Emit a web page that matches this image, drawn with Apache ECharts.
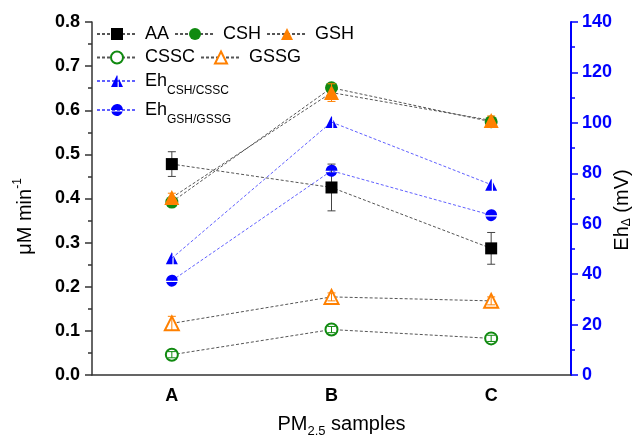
<!DOCTYPE html>
<html>
<head>
<meta charset="utf-8">
<script src="https://cdn.jsdelivr.net/npm/echarts@6/dist/echarts.min.js"></script>
<style>
html, body { margin: 0; padding: 0; background: #fff; }
#main { width: 638px; height: 435px; }
</style>
</head>
<body>
<div id="main"></div>
<script>
// categories
var samples = ['A', 'B', 'C'];
// rates (uM/min), left axis
var aa = [0.478, 0.425, 0.287];
var aaErr = [0.028, 0.053, 0.036];
var csh = [0.392, 0.651, 0.574];
var cshErr = [0.008, 0.008, 0.008];
var gsh = [0.402, 0.640, 0.577];
var gshErr = [0.01, 0.02, 0.01];
var cssc = [0.046, 0.103, 0.083];
var csscErr = [0.007, 0.007, 0.007];
var gssg = [0.117, 0.177, 0.168];
var gssgErr = [0.016, 0.009, 0.009];
// redox potentials (mV), right axis
var ehCsh = [46.3, 100.3, 75.5];
var ehGsh = [37.4, 81.0, 63.4];

var FONT = 'Liberation Sans, Arial, sans-serif';
var GREEN = '#108a10', ORANGE = '#ff8000', BLUE = '#0000ff';
var GRAY_LINE = '#555', BLUE_LINE = '#6060ff';

var halfTri = 'path://M10,0 L0,20 L11,20 L11,2 Z M13,6 L13,20 L20,20 Z';
var halfCirc = 'path://M0.05,11 A10,10 0 0 1 19.95,11 Z M0.5,13.1 A10,10 0 0 0 19.5,13.1 Z';

var myChart = echarts.init(document.getElementById('main'));

function lineSeries(name, data, symbol, size, color, lineColor, axis) {
  return {
    name: name,
    type: 'line',
    yAxisIndex: axis,
    data: data,
    symbol: symbol,
    symbolSize: size,
    z: 2,
    itemStyle: { color: color, borderColor: color, borderWidth: symbol.indexOf('empty') === 0 ? 1.5 : 0 },
    lineStyle: { color: lineColor, width: 1, type: [3, 2] }
  };
}

// error bars drawn through the value axis
function errBars(vals, errs, color, z) {
  return {
    type: 'custom',
    z: z,
    silent: true,
    encode: { x: 0, y: [1, 2] },
    data: vals.map(function(v, i) { return [i, v - errs[i], v + errs[i]]; }),
    renderItem: function(params, api) {
      var hi = api.coord([api.value(0), api.value(2)]);
      var lo = api.coord([api.value(0), api.value(1)]);
      var w = 4;
      var st = { stroke: color, lineWidth: 1 };
      return {
        type: 'group',
        children: [
          { type: 'line', shape: { x1: hi[0], y1: hi[1], x2: lo[0], y2: lo[1] }, style: st },
          { type: 'line', shape: { x1: hi[0] - w, y1: hi[1], x2: hi[0] + w, y2: hi[1] }, style: st },
          { type: 'line', shape: { x1: lo[0] - w, y1: lo[1], x2: lo[0] + w, y2: lo[1] }, style: st }
        ]
      };
    }
  };
}

var legendNames = {
  'Eh CSH/CSSC': '{a|Eh}{s|CSH/CSSC}',
  'Eh GSH/GSSG': '{a|Eh}{s|GSH/GSSG}'
};
function legendRow(names, top) {
  return {
    data: names,
    left: 96,
    top: top,
    padding: 0,
    itemWidth: 40,
    itemHeight: 15,
    itemGap: 5,
    selectedMode: false,
    formatter: function(n) { return legendNames[n] || n; },
    textStyle: {
      fontFamily: FONT, fontSize: 18, color: '#000', padding: [0, 0, 0, 3],
      rich: {
        a: { fontFamily: FONT, fontSize: 18, color: '#000', verticalAlign: 'middle' },
        s: { fontFamily: FONT, fontSize: 12, color: '#000', verticalAlign: 'middle', padding: [20, 0, 0, 0] }
      }
    }
  };
}

var option = {
  animation: false,
  backgroundColor: '#fff',
  grid: { left: 92, right: 67, top: 22, bottom: 60, containLabel: false, outerBoundsMode: 'none' },
  legend: [
    legendRow(['AA', 'CSH', 'GSH'], 25),
    legendRow(['CSSC', 'GSSG'], 48.5),
    legendRow(['Eh CSH/CSSC'], 72),
    legendRow(['Eh GSH/GSSG'], 101)
  ],
  xAxis: {
    type: 'category',
    data: samples,
    boundaryGap: true,
    axisLine: { lineStyle: { color: '#333', width: 1.5 } },
    axisTick: { alignWithLabel: true, length: 6, lineStyle: { color: '#333', width: 1.5 } },
    axisLabel: { fontFamily: FONT, fontSize: 18, fontWeight: 'bold', color: '#000', margin: 12 },
    name: '{a|PM}{s|2.5}{a| samples}',
    nameLocation: 'middle',
    nameGap: 36,
    nameTextStyle: {
      fontFamily: FONT, fontSize: 20, color: '#000', padding: [0, 0, 0, 20],
      rich: {
        a: { fontFamily: FONT, fontSize: 20, color: '#000', verticalAlign: 'middle' },
        s: { fontFamily: FONT, fontSize: 13, color: '#000', verticalAlign: 'middle', padding: [14, 0, 0, 0] }
      }
    }
  },
  yAxis: [{
    type: 'value',
    position: 'left',
    min: 0, max: 0.8, interval: 0.1,
    splitLine: { show: false },
    axisLine: { show: true, lineStyle: { color: '#333', width: 1.5 } },
    axisTick: { show: true, length: 7, lineStyle: { color: '#333', width: 1.5 } },
    minorTick: { show: true, splitNumber: 2, length: 4, lineStyle: { color: '#333', width: 1.5 } },
    axisLabel: {
      fontFamily: FONT, fontSize: 18, fontWeight: 'bold', color: '#000', margin: 12,
      formatter: function(v) { return v.toFixed(1); }
    },
    name: '{a|μM min}{p|-1}',
    nameLocation: 'middle',
    nameGap: 54,
    nameTextStyle: {
      fontFamily: FONT, fontSize: 20, color: '#000', padding: [0, 36, 0, 0],
      rich: {
        a: { fontFamily: FONT, fontSize: 20, color: '#000', verticalAlign: 'middle' },
        p: { fontFamily: FONT, fontSize: 12, color: '#000', verticalAlign: 'middle', padding: [0, 0, 14, 0] }
      }
    }
  }, {
    type: 'value',
    position: 'right',
    min: 0, max: 140, interval: 20,
    splitLine: { show: false },
    axisLine: { show: true, lineStyle: { color: BLUE, width: 2 } },
    axisTick: { show: true, length: 7, lineStyle: { color: BLUE, width: 1.5 } },
    minorTick: { show: true, splitNumber: 2, length: 4, lineStyle: { color: BLUE, width: 1.5 } },
    axisLabel: { fontFamily: FONT, fontSize: 18, fontWeight: 'bold', color: BLUE, margin: 11 },
    name: '{a|Eh}{s|Δ}{a| (mV)}',
    nameLocation: 'middle',
    nameGap: 40,
    nameMoveOverlap: false,
    nameTextStyle: {
      fontFamily: FONT, fontSize: 20, color: '#000', padding: [0, 23, 0, 0],
      rich: {
        a: { fontFamily: FONT, fontSize: 20, color: '#000', verticalAlign: 'middle' },
        s: { fontFamily: FONT, fontSize: 12, color: '#000', verticalAlign: 'middle', padding: [10, 0, 0, 0] }
      }
    }
  }],
  series: [
    errBars(aa, aaErr, '#444', 1),
    lineSeries('AA', aa, 'rect', 12, '#000', GRAY_LINE, 0),
    lineSeries('CSH', csh, 'circle', 13, GREEN, GRAY_LINE, 0),
    errBars(csh, cshErr, GREEN, 1),
    lineSeries('GSH', gsh, 'triangle', 15, ORANGE, GRAY_LINE, 0),
    errBars(gsh, gshErr, ORANGE, 3),
    lineSeries('CSSC', cssc, 'emptyCircle', 12, GREEN, GRAY_LINE, 0),
    errBars(cssc, csscErr, GREEN, 3),
    lineSeries('GSSG', gssg, 'emptyTriangle', 14, ORANGE, GRAY_LINE, 0),
    errBars(gssg, gssgErr, ORANGE, 3),
    lineSeries('Eh CSH/CSSC', ehCsh, halfTri, 12, BLUE, BLUE_LINE, 1),
    lineSeries('Eh GSH/GSSG', ehGsh, halfCirc, 12, BLUE, BLUE_LINE, 1)
  ]
};

myChart.setOption(option);
</script>
</body>
</html>
